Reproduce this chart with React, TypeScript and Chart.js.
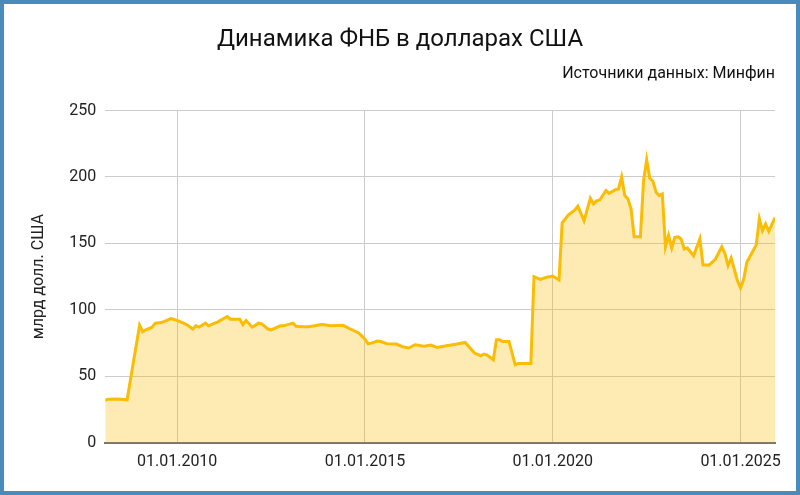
import { useEffect, useRef } from 'react';
import Chart from 'chart.js/auto';

// ФНБ, млрд долл. США (по данным Минфина), значения на начало месяца
const months = [
  '2008-02', '2008-03', '2008-06', '2008-09', '2009-01', '2009-02', '2009-03', '2009-05', '2009-06', '2009-08',
  '2009-11', '2010-01', '2010-03', '2010-04', '2010-06', '2010-07', '2010-08', '2010-10', '2010-11', '2011-02',
  '2011-05', '2011-06', '2011-09', '2011-10', '2011-11', '2012-01', '2012-03', '2012-04', '2012-06', '2012-07',
  '2012-10', '2012-11', '2013-02', '2013-03', '2013-05', '2013-07', '2013-09', '2013-11', '2013-12', '2014-02',
  '2014-06', '2014-08', '2014-11', '2015-01', '2015-02', '2015-03', '2015-05', '2015-06', '2015-08', '2015-11',
  '2016-01', '2016-03', '2016-05', '2016-07', '2016-08', '2016-10', '2016-12', '2017-03', '2017-06', '2017-09',
  '2017-12', '2018-02', '2018-03', '2018-04', '2018-06', '2018-07', '2018-08', '2018-09', '2018-11', '2019-01',
  '2019-02', '2019-06', '2019-07', '2019-09', '2019-11', '2020-01', '2020-03', '2020-04', '2020-06', '2020-08',
  '2020-09', '2020-11', '2021-01', '2021-02', '2021-03', '2021-04', '2021-06', '2021-07', '2021-09', '2021-10',
  '2021-11', '2021-12', '2022-01', '2022-02', '2022-03', '2022-05', '2022-06', '2022-07', '2022-08', '2022-09',
  '2022-10', '2022-11', '2022-12', '2023-01', '2023-02', '2023-03', '2023-04', '2023-05', '2023-06', '2023-07',
  '2023-08', '2023-10', '2023-12', '2024-01', '2024-03', '2024-05', '2024-07', '2024-08', '2024-09', '2024-10',
  '2024-12', '2025-01', '2025-02', '2025-03', '2025-06', '2025-07', '2025-08', '2025-09', '2025-10', '2025-12',
];

const fundUsd = [
  32.0, 32.8, 33.0, 32.3, 88.5, 83.5, 85, 87, 90, 90.5,
  93.5, 92, 90, 89, 85.6, 88, 87, 90, 88, 91,
  95, 93, 93, 89, 92, 87, 90, 89.5, 85.6, 85,
  88, 88, 90, 87.6, 87.3, 87.3, 88, 89, 88.8, 88,
  88.4, 86, 82.6, 78, 74.5, 75, 76.6, 76.2, 74.5, 74.3,
  72.3, 71.3, 73.8, 73, 72.7, 73.5, 71.8, 73, 74.2, 75.5,
  67.5, 65.5, 66.8, 66, 62.5, 77.6, 77.6, 76.3, 76.3, 58.7,
  59.7, 59.7, 125, 123, 124.5, 125.5, 122.5, 165.5, 171.5, 175,
  178, 167, 184, 179.7, 182, 182.7, 189.8, 187.7, 190.5, 191,
  200, 186, 183.5, 176, 155, 155, 197, 213, 199, 196.8,
  188.5, 186, 187.2, 147.5, 156, 146.6, 154.6, 155, 153.4, 145.8,
  146.6, 140.8, 153.4, 133.8, 133.8, 138.3, 147.6, 142.5, 133.3, 139,
  122, 116.5, 123, 135.8, 148.9, 168.5, 159.6, 164.7, 159.1, 169.5,
];

const tickYears = [2010, 2015, 2020, 2025];

const toYear = (m: string) => {
  const [y, mo] = m.split('-').map(Number);
  return y + (mo - 1) / 12;
};

export default function App() {
  const canvasRef = useRef<HTMLCanvasElement | null>(null);

  useEffect(() => {
    if (!canvasRef.current) return;
    const ctx = canvasRef.current.getContext('2d');
    if (!ctx) return;

    const points = months.map((m, i) => ({ x: toYear(m), y: fundUsd[i] }));
    const font = 'Roboto, "Noto Sans", sans-serif';

    const chart = new Chart(ctx, {
      type: 'line',
      data: {
        datasets: [{
          label: 'ФНБ',
          data: points,
          borderColor: '#fbbc04',
          backgroundColor: 'rgba(251, 188, 4, 0.3)',
          borderWidth: 3,
          pointRadius: 0,
          tension: 0,
          fill: 'origin',
        }]
      },
      options: {
        responsive: true,
        maintainAspectRatio: false,
        animation: false,
        layout: { padding: { left: 21, right: 21, top: 0, bottom: 9 } },
        scales: {
          x: {
            type: 'linear',
            min: toYear(months[0]),
            max: toYear(months[months.length - 1]),
            afterBuildTicks: (axis: any) => {
              axis.ticks = tickYears.map(v => ({ value: v }));
            },
            ticks: {
              color: '#222',
              font: { family: font, size: 16 },
              padding: 10,
              maxRotation: 0,
              callback: (v: any) => '01.01.' + v,
            },
            grid: { color: '#cccccc', lineWidth: 1, drawTicks: false },
            border: { color: '#757575', width: 2 },
          },
          y: {
            min: 0,
            max: 250,
            ticks: {
              stepSize: 50,
              color: '#222',
              font: { family: font, size: 16 },
              padding: 9,
            },
            grid: { color: '#cccccc', lineWidth: 1, drawTicks: false },
            border: { display: false },
            title: {
              display: true,
              text: 'млрд долл. США',
              color: '#222',
              font: { family: font, size: 16 },
              padding: { top: 4, bottom: 12 },
            },
          },
        },
        plugins: {
          legend: { display: false },
          tooltip: { enabled: false },
          title: {
            display: true,
            text: 'Динамика ФНБ в долларах США',
            color: '#111',
            font: { family: font, size: 24, weight: 'normal' },
            padding: { top: 22, bottom: 9.5 },
          },
          subtitle: {
            display: true,
            text: 'Источники данных: Минфин',
            align: 'end',
            color: '#111',
            font: { family: font, size: 16 },
            padding: { top: 0, bottom: 27 },
          },
        },
      },
    });

    return () => chart.destroy();
  }, []);

  return (
    <div
      style={{
        position: 'fixed',
        inset: 0,
        boxSizing: 'border-box',
        border: '4px solid #4a8bbd',
        background: '#fff',
      }}
    >
      <div style={{ position: 'relative', width: '100%', height: '100%' }}>
        <canvas ref={canvasRef} />
      </div>
    </div>
  );
}
